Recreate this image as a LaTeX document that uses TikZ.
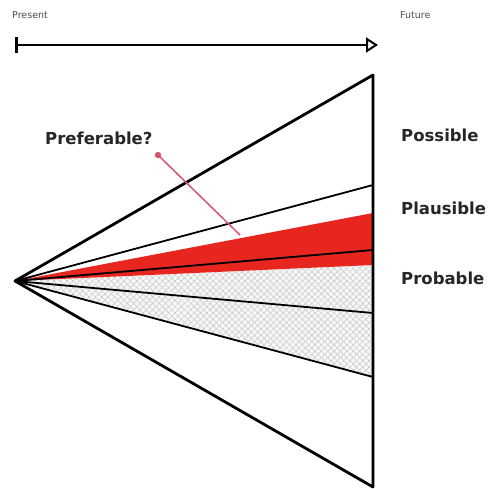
\documentclass[tikz,border=0pt]{standalone}
\usepackage{fontspec}
\setmainfont{DejaVu Sans}
\usetikzlibrary{arrows.meta,patterns.meta}
\definecolor{bandred}{RGB}{232,38,32}
\definecolor{prefpink}{RGB}{214,84,112}
\tikzset{
  cone/.style={line width=2.8pt, line cap=round, line join=round},
  ray/.style={line width=1.8pt},
  hatch/.style={pattern={Lines[angle=#1,distance=4.5pt,line width=0.5pt]}, pattern color=black!22},
  conelabel/.style={anchor=west, inner sep=0pt, text=black!85,
    font=\bfseries\fontsize{16.5}{18}\selectfont},
  timelabel/.style={anchor=west, inner sep=0pt, text=black!70,
    font=\fontsize{9.5}{11}\selectfont}
}
\begin{document}
\begin{tikzpicture}[x=1pt,y=-1pt]
\useasboundingbox (0,0) rectangle (490,488);
% time axis
\coordinate (now) at (15,45);
\coordinate (later) at (378,45);
\node[timelabel] (present) at (12,15) {Present};
\node[timelabel] (future) at (400,15) {Future};
\draw[line width=2.5pt, {Bar[width=16pt]}-{Triangle[open,length=12pt,width=15pt,line width=2pt]}] (now) -- (later);
% cone
\coordinate (apex) at (15,281);
\coordinate (top) at (373,75);
\coordinate (r1) at (373,185);
\coordinate (redtop) at (373,213);
\coordinate (mid) at (373,250);
\coordinate (redbot) at (373,265);
\coordinate (r2) at (373,313);
\coordinate (r3) at (373,377);
\coordinate (bot) at (373,487);
\fill[black!3] (apex) -- (redbot) -- (r3) -- cycle;
\fill[hatch=45] (apex) -- (redbot) -- (r3) -- cycle;
\fill[hatch=-45] (apex) -- (redbot) -- (r3) -- cycle;
\fill[bandred] (apex) -- (redtop) -- (redbot) -- cycle;
\draw[ray] (apex) -- (r1);
\draw[ray] (apex) -- (mid);
\draw[ray] (apex) -- (r2);
\draw[ray] (apex) -- (r3);
\draw[cone] (bot) -- (apex) -- (top) -- (bot);
% labels
\node[conelabel] (possible) at (401,135) {Possible};
\node[conelabel] (plausible) at (401,208) {Plausible};
\node[conelabel] (probable) at (401,278) {Probable};
\node[conelabel] (pref) at (45,138) {Preferable?};
\coordinate (dot) at (158,155);
\coordinate (aim) at (240,235);
\draw[prefpink, line width=1.5pt] (dot) -- (aim);
\fill[prefpink] (dot) circle (3.2);
\end{tikzpicture}
\end{document}
